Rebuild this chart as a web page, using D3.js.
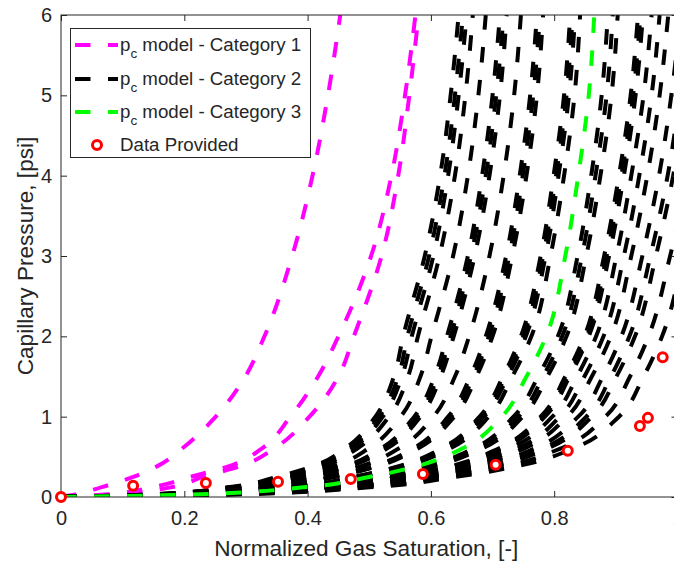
<html>
<head>
<style>
  body { margin: 0; background: #fff; }
  .frame { fill: none; stroke: #262626; stroke-width: 1; }
  .tick line { stroke: #262626; }
  .tickLabel { font-family: Arial, "Liberation Sans", sans-serif; font-size: 20px; fill: #262626; }
  .axisTitle { font-family: Arial, "Liberation Sans", sans-serif; font-size: 22.6px; fill: #262626; }
  .legendText { font-family: Arial, "Liberation Sans", sans-serif; font-size: 18.7px; fill: #262626; }
  .pcLine { fill: none; stroke-width: 4; stroke-dasharray: 15.5 17.5; }
</style>
</head>
<body>
<svg id="chart" width="674" height="563"></svg>
<script src="https://d3js.org/d3.v7.min.js"></script>
<script>
const pcLevels = [0, 0.03, 0.12, 0.25, 0.4, 0.6, 1, 1.5, 2, 3, 4, 5, 6]

// Category 1 (magenta) - Sg at each pc level
const cat1Curves = [
  [0, 0.023, 0.065, 0.117, 0.160, 0.196, 0.251, 0.299, 0.330, 0.375, 0.408, 0.433, 0.453],
  [0, 0.071, 0.147, 0.210, 0.279, 0.325, 0.372, 0.417, 0.450, 0.503, 0.536, 0.558, 0.575],
  [0, 0.090, 0.177, 0.230, 0.297, 0.345, 0.403, 0.450, 0.475, 0.520, 0.547, 0.565, 0.580]
]

// Category 2 (black), left to right
const cat2Curves = [
  [0, 0.140, 0.270, 0.350, 0.415, 0.460, 0.510, 0.540, 0.555, 0.590, 0.615, 0.632, 0.645],
  [0, 0.142, 0.274, 0.355, 0.420, 0.466, 0.516, 0.547, 0.562, 0.597, 0.622, 0.639, 0.652],
  [0, 0.144, 0.277, 0.359, 0.425, 0.471, 0.522, 0.553, 0.569, 0.604, 0.628, 0.645, 0.658],
  [0, 0.147, 0.283, 0.366, 0.433, 0.480, 0.532, 0.563, 0.579, 0.614, 0.639, 0.656, 0.668],
  [0, 0.154, 0.295, 0.380, 0.449, 0.498, 0.551, 0.583, 0.601, 0.636, 0.660, 0.677, 0.689],
  [0, 0.161, 0.308, 0.396, 0.467, 0.518, 0.573, 0.606, 0.626, 0.660, 0.683, 0.700, 0.712],
  [0, 0.163, 0.311, 0.400, 0.471, 0.523, 0.578, 0.611, 0.632, 0.665, 0.689, 0.706, 0.718],
  [0, 0.165, 0.314, 0.403, 0.475, 0.528, 0.583, 0.616, 0.637, 0.671, 0.695, 0.712, 0.723],
  [0, 0.172, 0.327, 0.419, 0.493, 0.547, 0.604, 0.639, 0.662, 0.695, 0.718, 0.735, 0.746],
  [0, 0.180, 0.341, 0.437, 0.513, 0.570, 0.628, 0.664, 0.689, 0.722, 0.744, 0.761, 0.772],
  [0, 0.182, 0.344, 0.440, 0.517, 0.574, 0.633, 0.669, 0.694, 0.727, 0.749, 0.766, 0.777],
  [0, 0.184, 0.347, 0.444, 0.521, 0.578, 0.638, 0.674, 0.700, 0.732, 0.755, 0.772, 0.782],
  [0, 0.198, 0.371, 0.474, 0.555, 0.616, 0.679, 0.717, 0.746, 0.778, 0.799, 0.816, 0.826],
  [0, 0.199, 0.373, 0.476, 0.558, 0.620, 0.682, 0.721, 0.750, 0.782, 0.803, 0.820, 0.830],
  [0, 0.200, 0.376, 0.479, 0.561, 0.623, 0.686, 0.725, 0.754, 0.786, 0.807, 0.824, 0.834],
  [0, 0.203, 0.380, 0.484, 0.567, 0.630, 0.694, 0.732, 0.763, 0.794, 0.816, 0.833, 0.842],
  [0, 0.216, 0.404, 0.514, 0.602, 0.668, 0.734, 0.774, 0.806, 0.838, 0.860, 0.877, 0.887],
  [0, 0.218, 0.408, 0.520, 0.608, 0.675, 0.742, 0.782, 0.813, 0.845, 0.867, 0.885, 0.895],
  [0, 0.221, 0.412, 0.525, 0.614, 0.682, 0.749, 0.789, 0.820, 0.852, 0.875, 0.893, 0.903],
  [0, 0.230, 0.428, 0.546, 0.640, 0.709, 0.778, 0.818, 0.849, 0.881, 0.905, 0.924, 0.936],
  [0, 0.231, 0.431, 0.549, 0.643, 0.713, 0.782, 0.822, 0.853, 0.885, 0.909, 0.928, 0.940],
  [0, 0.232, 0.432, 0.551, 0.646, 0.716, 0.785, 0.825, 0.856, 0.889, 0.913, 0.932, 0.944],
  [0, 0.236, 0.439, 0.560, 0.656, 0.727, 0.797, 0.837, 0.868, 0.901, 0.925, 0.945, 0.958],
  [0, 0.240, 0.446, 0.569, 0.666, 0.739, 0.809, 0.849, 0.880, 0.913, 0.938, 0.958, 0.971],
  [0, 0.244, 0.453, 0.578, 0.677, 0.750, 0.821, 0.861, 0.892, 0.925, 0.951, 0.971, 0.985],
  [0, 0.249, 0.463, 0.591, 0.692, 0.767, 0.839, 0.879, 0.909, 0.943, 0.970, 0.990, 1.005],
  [0, 0.253, 0.470, 0.601, 0.704, 0.780, 0.852, 0.892, 0.922, 0.956, 0.984, 1.004, 1.020],
  [0, 0.256, 0.475, 0.607, 0.712, 0.788, 0.861, 0.901, 0.931, 0.965, 0.993, 1.014, 1.030],
  [0, 0.263, 0.488, 0.624, 0.731, 0.809, 0.883, 0.923, 0.953, 0.988, 1.017, 1.038, 1.055],
  [0, 0.270, 0.500, 0.640, 0.750, 0.830, 0.905, 0.945, 0.975, 1.010, 1.040, 1.062, 1.080]
]

// Category 3 (green)
const cat3Curves = [
  [0, 0.210, 0.393, 0.500, 0.585, 0.650, 0.715, 0.755, 0.787, 0.818, 0.839, 0.856, 0.865]
]

// measured points
const dataSg = [0, 0.117, 0.235, 0.352, 0.470, 0.587, 0.705, 0.822, 0.939, 0.952, 0.976]
const dataPc = [0, 0.14, 0.175, 0.19, 0.225, 0.285, 0.40, 0.575, 0.885, 0.985, 1.74]

const xTicks = [0, 0.2, 0.4, 0.6, 0.8, 1]
const yTicks = [0, 1, 2, 3, 4, 5, 6]

let svg = d3.select("#chart")
let plotLeft = 61, plotRight = 677.5, plotTop = 15, plotBottom = 497

let xScale = d3.scaleLinear().domain([0, 1]).range([plotLeft, plotRight])
let yScale = d3.scaleLinear().domain([0, 6]).range([plotBottom, plotTop])

svg.append("clipPath").attr("id", "plotClip")
  .append("rect")
  .attr("x", plotLeft).attr("y", plotTop)
  .attr("width", plotRight - plotLeft).attr("height", plotBottom - plotTop)

let plot = svg.append("g").attr("clip-path", "url(#plotClip)")

let pcLine = d3.line()
  .x(d => xScale(d[0]))
  .y(d => yScale(d[1]))
  .curve(d3.curveMonotoneY)

function drawCategory(curves, color) {
  curves.forEach(sg => {
    plot.append("path")
      .datum(sg.map((s, i) => [s, pcLevels[i]]))
      .attr("class", "pcLine")
      .attr("stroke", color)
      .attr("d", pcLine)
  })
}
drawCategory(cat1Curves, "#ff00ff")
drawCategory(cat2Curves, "#000000")
drawCategory(cat3Curves, "#00ff00")

// markers are not clipped, the first one sits on the corner
svg.selectAll(".dataPt")
  .data(dataSg.map((s, i) => [s, dataPc[i]]))
  .enter()
  .append("circle")
  .attr("class", "dataPt")
  .attr("cx", d => xScale(d[0]))
  .attr("cy", d => yScale(d[1]))
  .attr("r", 4.5)
  .attr("fill", "white")
  .attr("stroke", "#ff0000")
  .attr("stroke-width", 3)

// axes: inward ticks on all four sides (box on)
let tickLen = 6
let plainFmt = d3.format("")
svg.append("g").attr("transform", "translate(0," + plotBottom + ")")
  .call(d3.axisBottom(xScale).tickValues(xTicks).tickSizeInner(-tickLen).tickSizeOuter(0).tickFormat(plainFmt))
  .call(g => g.select(".domain").remove())
  .call(g => g.selectAll("text").attr("class", "tickLabel").attr("y", 14).attr("dy", "0.71em").attr("fill", null).attr("font-size", null).attr("font-family", null))
svg.append("g").attr("transform", "translate(0," + plotTop + ")")
  .call(d3.axisTop(xScale).tickValues(xTicks).tickSizeInner(-tickLen).tickSizeOuter(0).tickFormat(""))
  .call(g => g.select(".domain").remove())
svg.append("g").attr("transform", "translate(" + plotLeft + ",0)")
  .call(d3.axisLeft(yScale).tickValues(yTicks).tickSizeInner(-tickLen).tickSizeOuter(0).tickFormat(plainFmt))
  .call(g => g.select(".domain").remove())
  .call(g => g.selectAll("text").attr("class", "tickLabel").attr("x", -9).attr("fill", null).attr("font-size", null).attr("font-family", null))
svg.append("g").attr("transform", "translate(" + plotRight + ",0)")
  .call(d3.axisRight(yScale).tickValues(yTicks).tickSizeInner(-tickLen).tickSizeOuter(0).tickFormat(""))
  .call(g => g.select(".domain").remove())
svg.selectAll(".tick line").attr("stroke", "#262626")

svg.append("rect").attr("class", "frame")
  .attr("x", plotLeft).attr("y", plotTop)
  .attr("width", plotRight - plotLeft).attr("height", plotBottom - plotTop)

// markers on top of the frame
svg.selectAll(".dataPt").raise()

svg.append("text").attr("class", "axisTitle")
  .attr("x", (plotLeft + plotRight) / 2 - 3).attr("y", 556)
  .attr("text-anchor", "middle")
  .text("Normalized Gas Saturation, [-]")

svg.append("text").attr("class", "axisTitle")
  .attr("transform", "translate(33," + ((plotTop + plotBottom) / 2) + ") rotate(-90)")
  .attr("text-anchor", "middle")
  .text("Capillary Pressure, [psi]")

// legend
let legendItems = [
  {label: "Category 1", color: "#ff00ff"},
  {label: "Category 2", color: "#000000"},
  {label: "Category 3", color: "#00ff00"}
]
let legend = svg.append("g")
legend.append("rect")
  .attr("x", 70.5).attr("y", 28.5).attr("width", 240).attr("height", 129)
  .attr("fill", "white").attr("stroke", "#262626").attr("stroke-width", 1)

let rowY = [45, 79, 112, 145]
legendItems.forEach((item, i) => {
  legend.append("line")
    .attr("class", "pcLine")
    .attr("x1", 75).attr("x2", 118)
    .attr("y1", rowY[i]).attr("y2", rowY[i])
    .attr("stroke", item.color)
  let t = legend.append("text").attr("class", "legendText")
    .attr("x", 120).attr("y", rowY[i] + 6)
  t.append("tspan").text("p")
  t.append("tspan").attr("dy", 7).attr("font-size", "13.5px").text("c")
  t.append("tspan").attr("dy", -7).text(" model - " + item.label)
})
legend.append("circle")
  .attr("cx", 97).attr("cy", rowY[3]).attr("r", 4.5)
  .attr("fill", "white").attr("stroke", "#ff0000").attr("stroke-width", 3)
legend.append("text").attr("class", "legendText")
  .attr("x", 120).attr("y", rowY[3] + 6)
  .text("Data Provided")
</script>
</body>
</html>
